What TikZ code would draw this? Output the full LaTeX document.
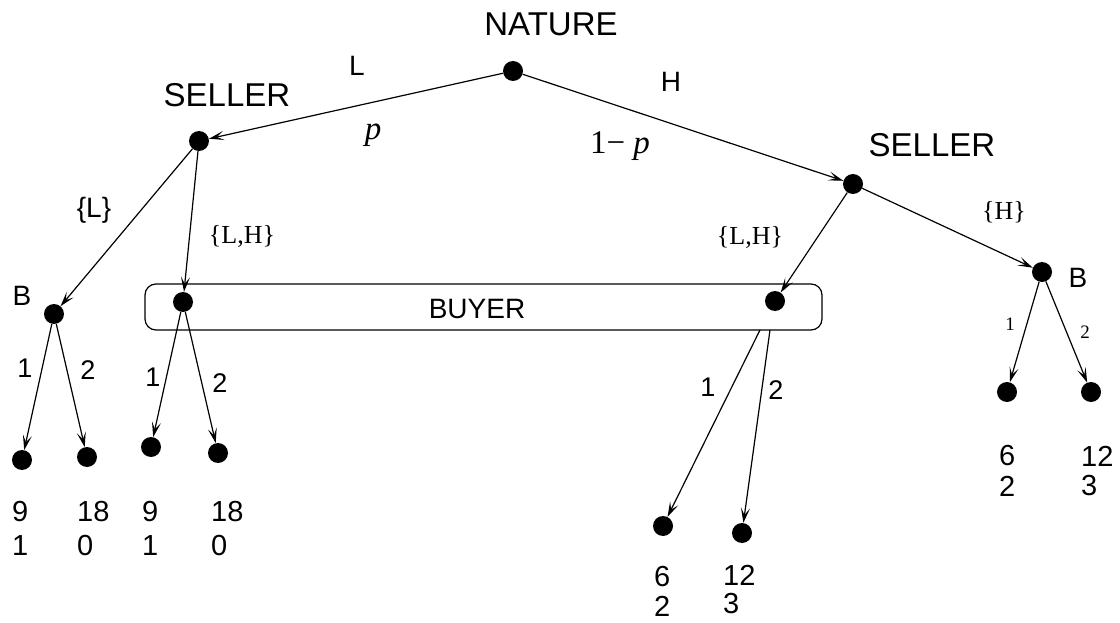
\documentclass[tikz,border=0pt]{standalone}
\usepackage{fontspec}
\setmainfont{Liberation Serif}
\setsansfont{Liberation Sans}
\usetikzlibrary{arrows.meta}
\begin{document}
\begin{tikzpicture}[x=1pt,y=-1pt,
  dot/.style={circle,fill=black,inner sep=0pt,minimum width=18pt,minimum height=20pt},
  edge/.style={line width=1.2pt},
  arr/.style={edge,-{Stealth[length=15pt,width=9pt,inset=7pt]}},
  big/.style={font=\sffamily\fontsize{33}{35}\selectfont,inner sep=0pt},
  mid/.style={font=\sffamily\fontsize{28}{30}\selectfont,inner sep=0pt},
  blab/.style={font=\sffamily\fontsize{27}{29}\selectfont,inner sep=0pt},
  rlab/.style={font=\rmfamily\fontsize{26}{28}\selectfont,inner sep=0pt},
  slabs/.style={font=\rmfamily\fontsize{19}{21}\selectfont,inner sep=0pt},
  pay/.style={font=\sffamily\fontsize{29}{31}\selectfont,inner sep=0pt,anchor=west}]
\useasboundingbox (0,0) rectangle (1120,623);
% information set box
\node[draw,line width=1.2pt,rounded corners=11pt,minimum width=677pt,minimum height=46pt,inner sep=0pt] (box) at (483.5,307) {};
\node[font=\sffamily\fontsize{28}{30}\selectfont,inner sep=0pt] (buyer) at (477,309) {BUYER};
% nodes
\node[dot] (nat) at (513,71) {};
\node[dot] (sl) at (199,141) {};
\node[dot] (sr) at (853,184) {};
\node[dot] (bl) at (54,314) {};
\node[dot] (ul) at (183,302) {};
\node[dot] (ur) at (775,301) {};
\node[dot] (br) at (1042,272) {};
\node[dot] (t1) at (22,460) {};
\node[dot] (t2) at (87,457) {};
\node[dot] (t3) at (151,447) {};
\node[dot] (t4) at (218,453) {};
\node[dot] (t5) at (663,526) {};
\node[dot] (t6) at (742,533) {};
\node[dot] (t7) at (1007,392) {};
\node[dot] (t8) at (1091,392) {};
\coordinate (c5) at (760,330);
\coordinate (c6) at (770,330);
% labels
\node[big] at (551,24) {NATURE};
\node[big] at (227,95) {SELLER};
\node[big] at (932,145) {SELLER};
\node[mid] at (357,66) {L};
\node[mid] at (671,82) {H};
\node[font=\rmfamily\itshape\fontsize{33}{35}\selectfont,inner sep=0pt] at (373,135) {p};
\node[font=\rmfamily\fontsize{33}{35}\selectfont,inner sep=0pt] at (620,146) {1−\hspace{8pt}\textit{p}};
\node[mid] at (22,296) {B};
\node[mid] at (1078,278) {B};
\node[mid] at (94,210) {\{L\}};
\node[rlab] at (242,236) {\{L,H\}};
\node[rlab] at (750,237) {\{L,H\}};
\node[rlab] at (1004,212) {\{H\}};
\node[blab] at (25,368) {1};
\node[blab] at (88,370) {2};
\node[blab] at (153,377) {1};
\node[blab] at (220,383) {2};
\node[blab] at (708,387) {1};
\node[blab] at (776,390) {2};
\node[slabs] at (1010,324) {1};
\node[slabs] at (1085,332) {2};
% payoffs
\node[pay] at (12,512) {9};
\node[pay] at (12,546) {1};
\node[pay] at (77,512) {18};
\node[pay] at (77,546) {0};
\node[pay] at (142,512) {9};
\node[pay] at (142,546) {1};
\node[pay] at (211,512) {18};
\node[pay] at (211,546) {0};
\node[pay] at (654,577) {6};
\node[pay] at (654,606) {2};
\node[pay] at (723,575) {12};
\node[pay] at (723,604) {3};
\node[pay] at (999,456) {6};
\node[pay] at (999,486) {2};
\node[pay] at (1081,456) {12};
\node[pay] at (1081,486) {3};
% edges
\draw[arr] (nat) -- (sl);
\draw[arr] (nat) -- (sr);
\draw[arr] (sl) -- (bl);
\draw[arr] (sl) -- (ul);
\draw[arr] (sr) -- (ur);
\draw[arr] (sr) -- (br);
\draw[arr] (bl) -- (t1);
\draw[arr] (bl) -- (t2);
\draw[arr] (ul) -- (t3);
\draw[arr] (ul) -- (t4);
\draw[arr] (c5) -- (t5);
\draw[arr] (c6) -- (t6);
\draw[arr] (br) -- (t7);
\draw[arr] (br) -- (t8);
\end{tikzpicture}
\end{document}
